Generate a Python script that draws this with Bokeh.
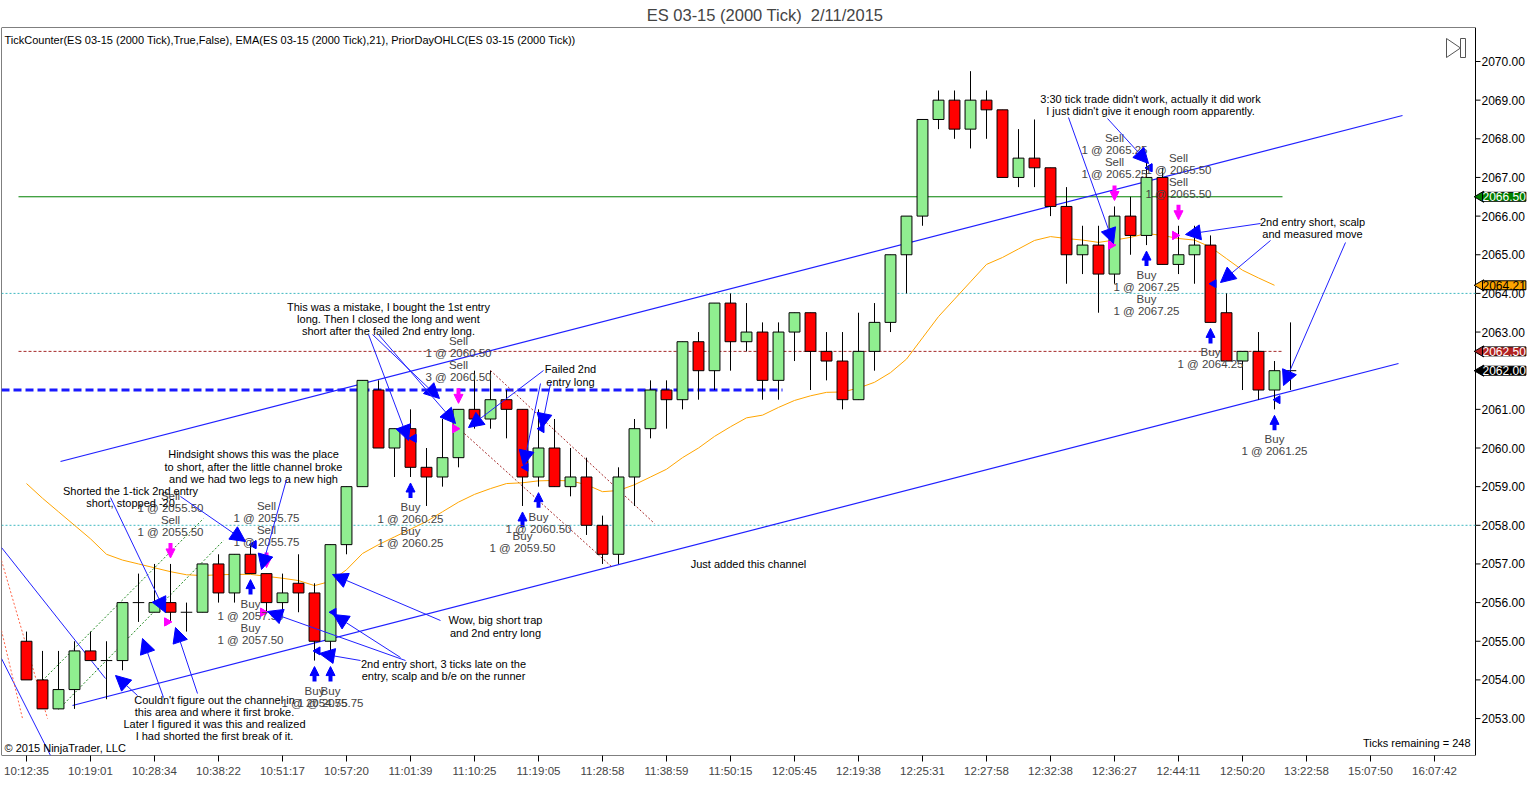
import math
from bokeh.plotting import figure
from bokeh.models import (Range1d, FixedTicker, Label, Arrow, NormalHead, Span)
from bokeh.embed import file_html
from bokeh.resources import INLINE

FONT = "Liberation Sans"

# ---------------- data ----------------
opens = [2055, 2054, 2053.25, 2053.75, 2054.75, 2054.5, 2054.5, 2056, 2055.75, 2056,
         2055.75, 2055.75, 2057, 2056.25, 2057.25, 2056.75, 2056, 2056.5, 2056.25, 2055,
         2057.5, 2059, 2061.5, 2060, 2060.5, 2059.5, 2059.25, 2059.75, 2061, 2060.75,
         2061.25, 2061, 2059.25, 2060, 2059, 2059.25, 2058, 2057.25, 2059.25, 2060.5,
         2061.5, 2061.25, 2062.75, 2062, 2063.75, 2062.75, 2063, 2061.75, 2063, 2063.5,
         2062.5, 2062.25, 2061.25, 2062.5, 2063.25, 2065, 2066, 2068.5, 2069, 2068.25,
         2069, 2068.75, 2067, 2067.5, 2067.25, 2066.25, 2065, 2065.25, 2064.5, 2066,
         2065.5, 2067, 2064.75, 2065, 2065.25, 2063.5, 2062.25, 2062.5, 2061.5, 2062]
highs = [2055.25, 2054.75, 2054.75, 2055, 2055.25, 2055, 2056, 2056.75, 2057, 2057,
         2056, 2057, 2057.25, 2057.25, 2057.5, 2056.75, 2056.75, 2057.25, 2056.5, 2057.5,
         2059, 2061.75, 2061.75, 2060.5, 2061, 2060, 2060.75, 2061, 2062, 2062,
         2061.5, 2061, 2061, 2060.75, 2060, 2059.75, 2058.25, 2059.5, 2060.75, 2061.75,
         2061.75, 2062.75, 2063, 2063.75, 2064, 2063.75, 2063.25, 2063.25, 2063.5, 2063.5,
         2063, 2063, 2063.5, 2063.75, 2065, 2066, 2068.5, 2069.25, 2069.25, 2069.75,
         2069.25, 2068.75, 2068.25, 2068.5, 2067.25, 2066.75, 2065.75, 2065.75, 2066.25, 2066.5,
         2067.5, 2067.25, 2065.75, 2065.75, 2065.5, 2064, 2062.5, 2063, 2062.25, 2063.25]
lows = [2054, 2053.25, 2053.25, 2053.25, 2054.5, 2053.5, 2054.25, 2055.5, 2055.75, 2055.5,
        2055.25, 2055.75, 2056, 2056, 2056.75, 2055.75, 2055.75, 2055.75, 2054.5, 2054.5,
        2057.25, 2059, 2060, 2059.25, 2059.25, 2058.5, 2059, 2059.5, 2060.5, 2060.5,
        2060.25, 2058.5, 2059, 2059, 2058.75, 2057.75, 2057, 2057, 2058.5, 2060.25,
        2060.5, 2061, 2061.25, 2061.5, 2062, 2062.5, 2061.25, 2061.25, 2062.25, 2061.5,
        2061.75, 2061, 2061.25, 2062, 2063, 2064, 2065.75, 2068.25, 2068, 2067.75,
        2068, 2067, 2066.75, 2066.75, 2066, 2064.25, 2064.5, 2063.5, 2064.25, 2065,
        2065.25, 2064.75, 2064.5, 2064.25, 2063.25, 2062.25, 2061.5, 2061.25, 2061, 2061.5]
closes = [2054, 2053.25, 2053.75, 2054.75, 2054.5, 2054.5, 2056, 2056, 2056, 2055.75,
          2055.75, 2057, 2056.25, 2057.25, 2056.75, 2056, 2056.25, 2056.25, 2055, 2057.5,
          2059, 2061.75, 2060, 2060.5, 2059.5, 2059.25, 2059.75, 2061, 2060.75, 2061.25,
          2061, 2059.25, 2060, 2059, 2059.25, 2058, 2057.25, 2059.25, 2060.5, 2061.5,
          2061.25, 2062.75, 2062, 2063.75, 2062.75, 2063, 2061.75, 2063, 2063.5, 2062.5,
          2062.25, 2061.25, 2062.5, 2063.25, 2065, 2066, 2068.5, 2069, 2068.25, 2069,
          2068.75, 2067, 2067.5, 2067.25, 2066.25, 2065, 2065.25, 2064.5, 2066, 2065.5,
          2067, 2064.75, 2065, 2065.25, 2063.25, 2062.25, 2062.5, 2061.5, 2062, 2062]
ema21 = [2059.08, 2058.7, 2058.35, 2058.0, 2057.65, 2057.25, 2057.1, 2057.0, 2056.9, 2056.8,
         2056.72, 2056.7, 2056.72, 2056.73, 2056.73, 2056.68, 2056.63, 2056.57, 2056.44, 2056.55,
         2056.85, 2057.27, 2057.5, 2057.7, 2057.9, 2058.1, 2058.35, 2058.6, 2058.8, 2058.95,
         2059.08, 2059.1, 2059.15, 2059.16, 2059.15, 2059.05, 2058.87, 2058.9, 2059.05, 2059.25,
         2059.45, 2059.75, 2060.0, 2060.3, 2060.55, 2060.78, 2060.85, 2061.05, 2061.23, 2061.35,
         2061.44, 2061.45, 2061.55, 2061.7, 2061.95, 2062.3, 2062.85, 2063.4, 2063.85, 2064.3,
         2064.75, 2064.93, 2065.15, 2065.37, 2065.47, 2065.42, 2065.38, 2065.32, 2065.38, 2065.45,
         2065.55, 2065.5, 2065.42, 2065.38, 2065.2, 2064.9, 2064.6, 2064.4, 2064.21]
time_labels = ["10:12:35", "10:19:01", "10:28:34", "10:38:22", "10:51:17", "10:57:20",
               "11:01:39", "11:10:25", "11:19:05", "11:28:58", "11:38:59", "11:50:15",
               "12:05:45", "12:19:38", "12:25:31", "12:27:58", "12:32:38", "12:36:27",
               "12:44:11", "12:50:20", "13:22:58", "15:07:50", "16:07:42"]
price_ticks = list(range(2053, 2071))
prior_day_close = 2066.50
prior_day_level = 2062.50
last_price = 2062.00
ema_last = 2064.21
hline_levels = [2064.0, 2058.0]
dash_level = 2061.50
sell_bars = [9, 9, 15, 15, 27, 27, 68, 68, 72, 72]
sell_qty = [1, 1, 1, 1, 1, 3, 1, 1, 1, 1]
sell_price = [2055.50, 2055.50, 2055.75, 2055.75, 2060.50, 2060.50, 2065.25, 2065.25, 2065.50, 2065.50]
buy_bars = [14, 14, 18, 19, 24, 24, 31, 32, 70, 70, 74, 78]
buy_qty = [1, 1, 1, 1, 1, 1, 1, 1, 1, 1, 1, 1]
buy_price = [2057.50, 2057.50, 2054.75, 2055.75, 2060.25, 2060.25, 2059.50, 2060.50,
             2067.25, 2067.25, 2064.25, 2061.25]

# ---------------- geometry helpers (reference pixel -> data) ----------------
PX0, PXB = 26.0, 16.0
PY0, PYP = 61.0, 38.65


def X(px):
    return (px - PX0) / PXB


def Y(py):
    return 2070 - (py - PY0) / PYP


PT = 1.0 / PYP  # one pixel in price units
XR = 1475  # right edge of the price panel (reference px)

p = figure(frame_width=1527, frame_height=728,
           x_range=Range1d(X(1), X(1528)), y_range=Range1d(Y(755), Y(27)),
           y_axis_location=None, output_backend="svg", toolbar_location=None,
           min_border_left=1, min_border_right=0, min_border_bottom=36, min_border_top=0,
           background_fill_color="white", border_fill_color="white")
p.title.text = "ES 03-15 (2000 Tick)\u00a0\u00a02/11/2015"
p.title.align = "center"
p.title.text_font = FONT
p.title.text_font_size = "16.5px"
p.title.text_font_style = "normal"
p.title.standoff = 7
p.xgrid.visible = False
p.ygrid.visible = False
p.outline_line_color = None

xa = p.xaxis[0]
xa.ticker = FixedTicker(ticks=[4 * i for i in range(len(time_labels))])
xa.major_label_overrides = {4 * i: t for i, t in enumerate(time_labels)}
xa.major_label_text_font = FONT
xa.major_label_text_font_size = "11.5px"
xa.minor_tick_line_color = None
xa.major_tick_in = 0
xa.major_tick_out = 6
xa.major_label_standoff = 3
xa.axis_line_color = None

# ---------------- panel box + price scale (drawn on the same data scales) ----------------
p.line([X(1), X(XR), X(XR), X(1), X(1)], [Y(27), Y(27), Y(755), Y(755), Y(27)],
       color="black", line_width=1)
p.segment([X(XR)] * len(price_ticks), price_ticks, [X(XR + 5)] * len(price_ticks), price_ticks,
          color="black", line_width=1)
for t in price_ticks:
    p.add_layout(Label(x=X(XR + 6), y=t, text=f"{t:.2f}", text_font=FONT, text_font_size="12px",
                       text_align="left", text_baseline="middle", text_color="black"))

# ---------------- horizontal levels ----------------
for lv in hline_levels:
    p.line([X(1), X(XR)], [lv, lv], color="#3fb8c0", line_dash="2 2", line_width=1)
p.line([X(18), X(1282)], [prior_day_close, prior_day_close], color="#008000", line_width=1)
p.line([X(18), X(1282)], [prior_day_level, prior_day_level], color="#a52a2a",
       line_width=1, line_dash="3 2")
p.line([X(1), X(782)], [dash_level, dash_level], color="#1a1aff", line_width=3, line_dash="8 4")

# ---------------- drawn lines (reference px) ----------------
drawings = [
    ((60, 461), (1402, 115), "#2020ff", 1.2, "solid"),
    ((72, 705), (1398, 363), "#2020ff", 1.2, "solid"),
    ((1, 547), (105, 678), "#2020ff", 1, "solid"),
    ((1, 658), (50, 755), "#2020ff", 1, "solid"),
    ((1, 560), (47, 718), "#ff6347", 1, "2 2"),
    ((1, 630), (22, 718), "#ff6347", 1, "2 2"),
    ((42, 680), (203, 518), "#228b22", 1, "2 2"),
    ((58, 709), (223, 540), "#228b22", 1, "2 2"),
    ((490, 370), (654, 523), "#a52a2a", 1, "2 2"),
    ((455, 425), (612, 567), "#a52a2a", 1, "2 2"),
]
for (a, b, col, lw, dash) in drawings:
    p.line([X(a[0]), X(b[0])], [Y(a[1]), Y(b[1])], color=col, line_width=lw, line_dash=dash)

# ---------------- EMA ----------------
p.line(list(range(len(ema21))), ema21, color="#ffa500", line_width=1)

# ---------------- candles ----------------
idx = list(range(len(opens)))
p.segment(idx, highs, idx, lows, color="black", line_width=1)
bx, bt, bb, bc = [], [], [], []
dx, dy = [], []
for i, o, c in zip(idx, opens, closes):
    if o == c:
        dx.append(i)
        dy.append(o)
    else:
        bx.append(i)
        bt.append(max(o, c))
        bb.append(min(o, c))
        bc.append("#90ee90" if c > o else "#ff0000")
p.vbar(x=bx, width=0.68, top=bt, bottom=bb, fill_color=bc, line_color="black", line_width=1)
p.segment([d - 0.36 for d in dx], dy, [d + 0.36 for d in dx], dy, color="black", line_width=1)

# ---------------- executions ----------------
p.scatter([b - 0.22 for b in sell_bars], sell_price, marker="triangle", size=8,
          angle=-math.pi / 2, color="#ff00ff")
p.scatter([b + 0.2 for b in buy_bars], buy_price, marker="triangle", size=8,
          angle=math.pi / 2, color="#0000ff")


def add_text(px, py, txt, size="11px", align="center", color="black"):
    p.add_layout(Label(x=X(px), y=Y(py), text=txt, text_font=FONT, text_font_size=size,
                       text_align=align, text_baseline="middle", text_color=color))


def group(bars, qty, price):
    g = {}
    for b, q, pr in zip(bars, qty, price):
        g.setdefault(b, []).append((q, pr))
    return g


for b, items in group(sell_bars, sell_qty, sell_price).items():
    hi = highs[b]
    p.add_layout(Arrow(x_start=b, y_start=hi + 21 * PT, x_end=b, y_end=hi + 6 * PT,
                       line_color="#ff00ff", line_width=4,
                       end=NormalHead(size=9, fill_color="#ff00ff", line_color="#ff00ff")))
    lines = []
    for q, pr in items:
        lines += ["Sell", f"{q} @ {pr:.2f}"]
    for k, t in enumerate(reversed(lines)):
        p.add_layout(Label(x=b, y=hi + (32 + 12 * k) * PT, text=t, text_font=FONT,
                           text_font_size="11.5px", text_align="center", text_baseline="middle"))

for b, items in group(buy_bars, buy_qty, buy_price).items():
    lo = lows[b]
    p.add_layout(Arrow(x_start=b, y_start=lo - 21 * PT, x_end=b, y_end=lo - 6 * PT,
                       line_color="#0000ff", line_width=4,
                       end=NormalHead(size=9, fill_color="#0000ff", line_color="#0000ff")))
    lines = []
    for q, pr in items:
        lines += ["Buy", f"{q} @ {pr:.2f}"]
    for k, t in enumerate(lines):
        p.add_layout(Label(x=b, y=lo - (30 + 12 * k) * PT, text=t, text_font=FONT,
                           text_font_size="11.5px", text_align="center", text_baseline="middle"))

# ---------------- notes ----------------
notes = [
    (130, [490, 502], ["Shorted the 1-tick 2nd entry", "short, stopped -20"]),
    (253, [453, 466, 478], ["Hindsight shows this was the place",
                            "to short, after the little channel broke",
                            "and we had two legs to a new high"]),
    (214, [699, 711, 723, 735], ["Couldn't figure out the channel in",
                                 "this area and where it first broke.",
                                 "Later I figured it was this and realized",
                                 "I had shorted the first break of it."]),
    (388, [306, 318, 330], ["This was a mistake, I bought the 1st entry",
                            "long. Then I closed the long and went",
                            "short after the failed 2nd entry long."]),
    (570, [368, 381], ["Failed 2nd", "entry long"]),
    (495, [619, 632], ["Wow, big short trap", "and 2nd entry long"]),
    (443, [663, 675], ["2nd entry short, 3 ticks late on the",
                       "entry, scalp and b/e on the runner"]),
    (748, [563], ["Just added this channel"]),
    (1150, [98, 110], ["3:30 tick trade didn't work, actually it did work",
                       "I just didn't give it enough room apparently."]),
    (1312, [221, 233], ["2nd entry short, scalp", "and measured move"]),
]
for cx, ys, txts in notes:
    for yy, t in zip(ys, txts):
        add_text(cx, yy, t, size="11px")

arrows = [
    ((110, 497), (165, 612)),
    ((180, 496), (245, 541)), ((286, 479), (261, 569)),
    ((137, 695), (115, 675)), ((163, 697), (142, 638)), ((197, 693), (175, 627)),
    ((368, 334), (408, 440)), ((372, 334), (439, 398)), ((378, 334), (455, 423)),
    ((543, 370), (468, 427)), ((540, 383), (523, 465)), ((550, 383), (541, 428)),
    ((440, 620), (332, 574)),
    ((405, 660), (267, 611)), ((400, 657), (333, 614)), ((360, 660), (319, 653)),
    ((1068, 117), (1113, 243)), ((1107, 118), (1148, 163)),
    ((1260, 223), (1185, 234)), ((1270, 240), (1220, 282)), ((1345, 242), (1283, 385)),
]
for (t, h) in arrows:
    p.add_layout(Arrow(x_start=X(t[0]), y_start=Y(t[1]), x_end=X(h[0]), y_end=Y(h[1]),
                       line_color="#2020ff", line_width=1,
                       end=NormalHead(size=15, fill_color="#0000ff", line_color="#0000ff")))

# ---------------- chrome texts ----------------
add_text(4, 39, "TickCounter(ES 03-15 (2000 Tick),True,False), EMA(ES 03-15 (2000 Tick),21), "
                "PriorDayOHLC(ES 03-15 (2000 Tick))", size="11px", align="left")
add_text(4, 747, "\u00a9 2015 NinjaTrader, LLC", size="11px", align="left")
add_text(1470, 742, "Ticks remaining = 248", size="11px", align="right")

# play/end icon
p.line([X(1446), X(1446), X(1460), X(1446)], [Y(38), Y(57), Y(47.5), Y(38)], color="#555555")
p.line([X(1460), X(1465), X(1465), X(1460), X(1460)], [Y(38), Y(38), Y(57), Y(57), Y(38)],
       color="#555555")

# price tags on the price scale
tag_levels = [prior_day_close, ema_last, prior_day_level, last_price]
tag_fill = ["#008000", "#ffa500", "#b22222", "#000000"]
tag_text = ["white", "black", "white", "white"]
p.scatter([X(XR + 5)] * 4, tag_levels, marker="triangle", size=11, angle=math.pi / 2,
          fill_color=tag_fill, line_color="black")
for lv, bg, fg in zip(tag_levels, tag_fill, tag_text):
    p.add_layout(Label(x=X(XR + 7), y=lv, text=f"{lv:.2f}", text_font=FONT,
                       text_font_size="12px", text_align="left", text_baseline="middle",
                       text_color=fg, background_fill_color=bg, border_line_color="black"))

open("out.html", "w").write(file_html(p, INLINE))
